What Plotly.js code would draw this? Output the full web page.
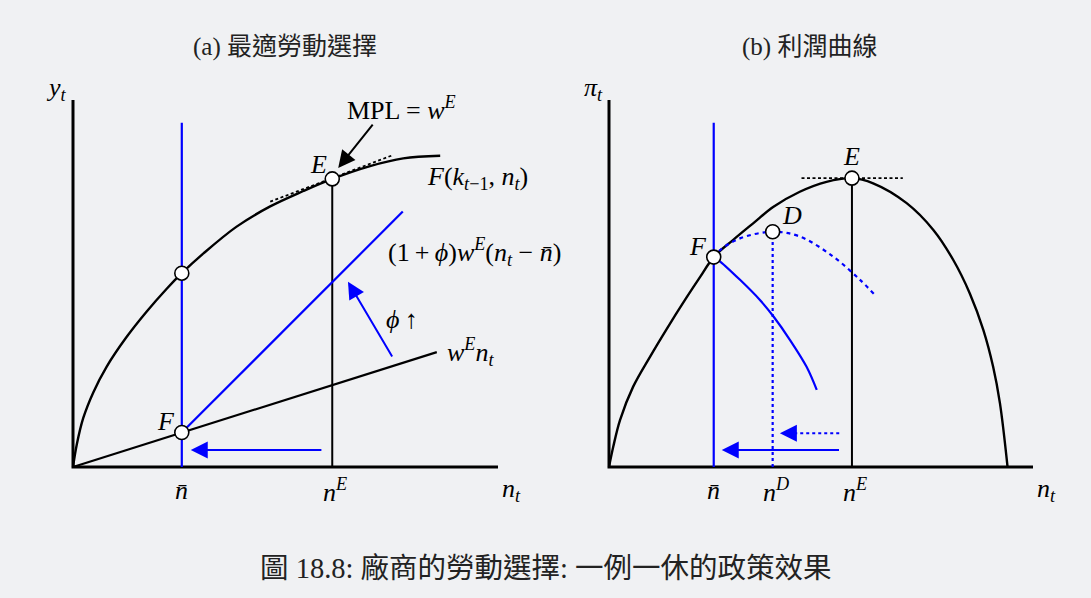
<!DOCTYPE html>
<html>
<head>
<meta charset="utf-8">
<script src="https://cdn.plot.ly/plotly-3.0.1.min.js"></script>
<style>
  html, body { margin: 0; padding: 0; background: #f0f1f3; }
  #chart { width: 1091px; height: 598px; }
</style>
</head>
<body>
<div id="chart"></div>
<script>
// ---------- Panel (a): optimal labour choice ----------
const nBar = 2.56;          // minimum employment level n̄
const nE = 6.10;            // optimal employment n^E
const yAxisTop = 10;
const xAxisEnd = 10;
const nBarLineTop = 9.38;

// production function F(k_{t-1}, n_t)
const prodN = [0, 0.09, 0.24, 0.48, 0.79, 1.26, 1.73, 2.20, 2.56, 3.07, 3.85, 4.64, 5.42, 6.10, 6.99, 7.77, 8.64];
const prodY = [0, 0.62, 1.33, 2.04, 2.73, 3.54, 4.23, 4.85, 5.28, 5.82, 6.55, 7.10, 7.52, 7.85, 8.20, 8.41, 8.48];

// wage bill w^E n_t
const wageN = [0, 8.56];
const wageY = [0, 3.13];

// policy cost line (1+phi) w^E (n_t - n̄)
const policyN = [2.56, 7.76];
const policyY = [0.94, 6.96];

// tangent at E (MPL = w^E)
const tangentN = [4.64, 7.53];
const tangentY = [7.23, 8.50];

// marked points in panel (a)
const pointsAN = [2.56, 2.56, 6.10];
const pointsAY = [5.28, 0.94, 7.85];

// arrows in panel (a): [tailX, tailY, headX, headY]
const arrowShiftA = [5.88, 0.46, 2.77, 0.46];
const arrowPhiA = [7.53, 2.97, 6.47, 5.05];
const arrowMPL = [7.08, 9.37, 6.24, 8.15];

// ---------- Panel (b): profit curve ----------
const nBarB = 2.47;
const nD = 3.86;
const nEB = 5.73;
const piE = 7.87;
const piD = 6.41;

const profitN = [0, 0.10, 0.26, 0.57, 0.97, 1.36, 1.83, 2.15, 2.47, 2.93, 3.40, 3.88, 4.50, 5.13, 5.73, 6.23, 7.02, 7.65, 8.12, 8.51, 8.83, 9.06, 9.22, 9.40];
const profitY = [0, 0.55, 1.28, 2.19, 3.01, 3.76, 4.62, 5.18, 5.72, 6.19, 6.64, 7.09, 7.50, 7.77, 7.87, 7.73, 7.19, 6.46, 5.64, 4.73, 3.73, 2.73, 1.74, 0];

// profit under the policy, dotted branch through D
const dottedN = [2.47, 2.62, 3.09, 3.86, 4.50, 5.29, 5.92, 6.27];
const dottedY = [5.72, 5.91, 6.23, 6.41, 6.28, 5.73, 5.10, 4.69];

// profit under the policy, solid branch below F
const solidN = [2.47, 2.58, 3.09, 3.56, 3.88, 4.27, 4.66, 4.90];
const solidY = [5.72, 5.64, 5.10, 4.55, 4.10, 3.46, 2.73, 2.10];

// flat tangent at the profit maximum
const flatN = [4.54, 6.93];

const pointsBN = [2.47, 3.86, 5.73];
const pointsBY = [5.72, 6.41, 7.87];

const arrowDotB = [5.43, 0.92, 4.03, 0.92];
const arrowShiftB = [5.46, 0.46, 2.66, 0.46];

// ---------- styling ----------
const BG = '#f0f1f3';
const BLUE = '#0000ff';
const BLACK = '#000000';
const SERIF = '"Liberation Serif", "Times New Roman", serif';
const MIXED = '"Liberation Serif", "Noto Sans CJK TC", serif';
const LABEL_SIZE = 26;

function line(x, y, panel, color, width, dash, shape) {
  return {
    x: x, y: y,
    xaxis: panel === 2 ? 'x2' : 'x',
    yaxis: panel === 2 ? 'y2' : 'y',
    mode: 'lines',
    line: { color: color, width: width, dash: dash || 'solid', shape: shape || 'linear', smoothing: 1 },
    hoverinfo: 'skip'
  };
}
function points(x, y, panel) {
  return {
    x: x, y: y,
    xaxis: panel === 2 ? 'x2' : 'x',
    yaxis: panel === 2 ? 'y2' : 'y',
    mode: 'markers',
    marker: { size: 14, color: '#ffffff', line: { color: BLACK, width: 1.6 } },
    hoverinfo: 'skip'
  };
}

const traces = [
  // panel (a)
  line([0, 0, xAxisEnd], [yAxisTop, 0, 0], 1, BLACK, 3),
  line([nBar, nBar], [0, nBarLineTop], 1, BLUE, 2.2),
  line([nE, nE], [0, pointsAY[2]], 1, BLACK, 2),
  line(tangentN, tangentY, 1, BLACK, 1.8, '3px,2.5px'),
  line(prodN, prodY, 1, BLACK, 2.4, 'solid', 'spline'),
  line(wageN, wageY, 1, BLACK, 2.2),
  line(policyN, policyY, 1, BLUE, 2.2),
  points(pointsAN, pointsAY, 1),

  // panel (b)
  line([0, 0, xAxisEnd], [yAxisTop, 0, 0], 2, BLACK, 3),
  line([nBarB, nBarB], [0, nBarLineTop], 2, BLUE, 2.2),
  line([nEB, nEB], [0, piE], 2, BLACK, 2),
  line([nD, nD], [0, piD], 2, BLUE, 2.2, '3px,3px'),
  line(flatN, [piE, piE], 2, BLACK, 1.8, '3px,2.5px'),
  line(profitN, profitY, 2, BLACK, 2.4, 'solid', 'spline'),
  line(dottedN, dottedY, 2, BLUE, 2.2, '4px,4px', 'spline'),
  line(solidN, solidY, 2, BLUE, 2.2, 'solid', 'spline'),
  line([arrowDotB[0], arrowDotB[2] + 0.3], [arrowDotB[1], arrowDotB[3]], 2, BLUE, 2, '3px,3px'),
  points(pointsBN, pointsBY, 2)
];

function arrow(a, xref, yref, color, dx) {
  return {
    x: a[2], y: a[3], ax: dx === undefined ? a[0] : a[2] + dx, ay: a[1],
    xref: xref, yref: yref, axref: xref, ayref: yref,
    text: '', showarrow: true, arrowhead: 2, arrowsize: 1.7, arrowwidth: 2,
    arrowcolor: color, standoff: 0, startstandoff: 0
  };
}
function label(text, x, y, xref, yref, opts) {
  return Object.assign({
    text: text, x: x, y: y, xref: xref, yref: yref, showarrow: false,
    font: { family: SERIF, size: LABEL_SIZE, color: BLACK },
    xanchor: 'center', yanchor: 'middle'
  }, opts || {});
}

const annotations = [
  // titles and caption
  label('(a) 最適勞動選擇', 285 / 1091, 1 - 47 / 598, 'paper', 'paper', { font: { family: MIXED, size: 25, color: '#222222' } }),
  label('(b) 利潤曲線', 809 / 1091, 1 - 47 / 598, 'paper', 'paper', { font: { family: MIXED, size: 25, color: '#222222' } }),
  label('圖 18.8: 廠商的勞動選擇: 一例一休的政策效果', 545.5 / 1091, 1 - 568 / 598, 'paper', 'paper', { font: { family: MIXED, size: 28.5, color: '#222222' } }),

  // panel (a) labels
  label('<i>y</i><sub><i>t</i></sub>', 0, yAxisTop, 'x', 'y', { xanchor: 'right', yanchor: 'bottom', xshift: -4, yshift: -7 }),
  label('MPL = <i>w</i><sup><i>E</i></sup>', 7.74, 9.78, 'x', 'y'),
  label('<i>E</i>', nE, pointsAY[2], 'x', 'y', { xshift: -14, yshift: 14 }),
  label('<i>F</i>(<i>k</i><sub><i>t</i>−1</sub>, <i>n</i><sub><i>t</i></sub>)', 9.51, 7.87, 'x', 'y'),
  label('(1\u2009+\u2009<i>ϕ</i>)<i>w</i><sup><i>E</i></sup>(<i>n</i><sub><i>t</i></sub> − <i>n̄</i>)', 9.44, 5.86, 'x', 'y'),
  label('<i>ϕ</i>\u2009↑', 7.74, 4.01, 'x', 'y'),
  label('<i>w</i><sup><i>E</i></sup><i>n</i><sub><i>t</i></sub>', 9.36, 3.13, 'x', 'y'),
  label('<i>F</i>', nBar, pointsAY[1], 'x', 'y', { xshift: -16, yshift: 11 }),
  label('<i>n̄</i>', nBar, 0, 'x', 'y', { yanchor: 'top', yshift: -7 }),
  label('<i>n</i><sup><i>E</i></sup>', nE, 0, 'x', 'y', { yanchor: 'top', yshift: -5, xshift: 3 }),
  label('<i>n</i><sub><i>t</i></sub>', xAxisEnd, 0, 'x', 'y', { yanchor: 'top', yshift: -5, xshift: 13 }),

  // panel (b) labels
  label('<i>π</i><sub><i>t</i></sub>', 0, yAxisTop, 'x2', 'y2', { xanchor: 'right', yanchor: 'bottom', xshift: -4, yshift: -7 }),
  label('<i>E</i>', nEB, piE, 'x2', 'y2', { yshift: 22 }),
  label('<i>D</i>', nD, piD, 'x2', 'y2', { xshift: 19, yshift: 16 }),
  label('<i>F</i>', nBarB, pointsBY[0], 'x2', 'y2', { xshift: -16, yshift: 11 }),
  label('<i>n̄</i>', nBarB, 0, 'x2', 'y2', { yanchor: 'top', yshift: -7 }),
  label('<i>n</i><sup><i>D</i></sup>', nD, 0, 'x2', 'y2', { yanchor: 'top', yshift: -5, xshift: 3 }),
  label('<i>n</i><sup><i>E</i></sup>', nEB, 0, 'x2', 'y2', { yanchor: 'top', yshift: -5, xshift: 3 }),
  label('<i>n</i><sub><i>t</i></sub>', xAxisEnd, 0, 'x2', 'y2', { yanchor: 'top', yshift: -5, xshift: 13 }),

  // arrows
  arrow(arrowShiftA, 'x', 'y', BLUE),
  arrow(arrowPhiA, 'x', 'y', BLUE),
  arrow(arrowMPL, 'x', 'y', BLACK),
  arrow(arrowShiftB, 'x2', 'y2', BLUE),
  arrow(arrowDotB, 'x2', 'y2', BLUE, 0.35)
];

const axisBase = {
  range: [-0.5, 10.5], showgrid: false, zeroline: false, showline: false,
  showticklabels: false, ticks: '', fixedrange: true
};

const layout = {
  width: 1091, height: 598,
  margin: { l: 0, r: 0, t: 0, b: 0 },
  paper_bgcolor: BG, plot_bgcolor: BG,
  showlegend: false,
  xaxis: Object.assign({}, axisBase, { domain: [0.047434, 0.475940] }),
  yaxis: Object.assign({}, axisBase, { domain: [0.18838, 0.86346] }),
  xaxis2: Object.assign({}, axisBase, { domain: [0.538772, 0.966269], anchor: 'y2' }),
  yaxis2: Object.assign({}, axisBase, { domain: [0.18838, 0.86346], anchor: 'x2' }),
  annotations: annotations
};

Plotly.newPlot('chart', traces, layout, { staticPlot: true, displayModeBar: false });
</script>
</body>
</html>
